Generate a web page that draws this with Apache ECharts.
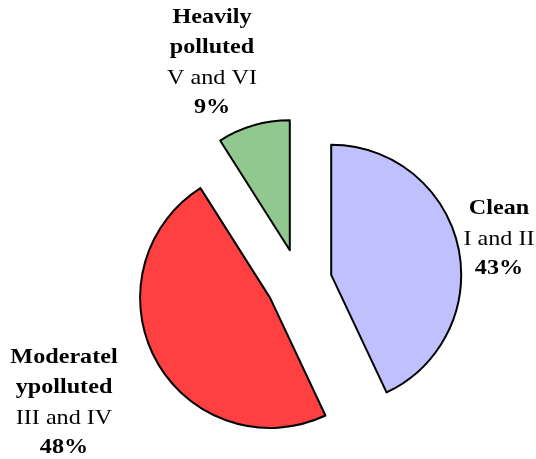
<!DOCTYPE html>
<html>
<head>
<meta charset="utf-8">
<script src="https://cdn.jsdelivr.net/npm/echarts@6/dist/echarts.min.js"></script>
<style>
  html, body { margin: 0; padding: 0; background: #fff; }
  #chart { width: 536px; height: 459px; }
</style>
</head>
<body>
<div id="chart"></div>
<script>
// water quality classes
var names = ["Clean", "Moderatel ypolluted", "Heavily polluted"];
var classes = ["I and II", "III and IV", "V and VI"];
var values = [43, 48, 9];
var colors = ["#c0c0ff", "#ff4040", "#90c890"];

// centre of each label block
var labelPos = [[499, 239], [64, 403], [212, 63]];

var chart = echarts.init(document.getElementById("chart"));

var data = names.map(function (n, i) {
  return {
    name: n,
    value: values[i],
    selected: true,
    itemStyle: { color: colors[i] }
  };
});

function labelText(i) {
  var lines = names[i].split(" ").map(function (s) {
    return "{b|" + s + "}";
  });
  lines.push("{n|" + classes[i] + "}");
  lines.push("{b|" + values[i] + "%}");
  return lines.join("\n");
}

var rich = {
  b: { fontFamily: "Liberation Serif", fontWeight: "bold", fontSize: 21, lineHeight: 30, fill: "#000" },
  n: { fontFamily: "Liberation Serif", fontSize: 21, lineHeight: 30, fill: "#000" }
};

// labels sit far from the slices, so place them as text blocks
var labels = names.map(function (n, i) {
  return {
    type: "text",
    x: labelPos[i][0],
    y: labelPos[i][1],
    scaleX: 1.15,
    silent: true,
    style: {
      text: labelText(i),
      rich: rich,
      x: 0,
      y: 0,
      align: "center",
      verticalAlign: "middle",
      fill: "#000"
    }
  };
});

chart.setOption({
  animation: false,
  graphic: labels,
  series: [
    {
      type: "pie",
      center: [299, 282],
      radius: 130,
      startAngle: 90,
      clockwise: true,
      selectedMode: "multiple",
      selectedOffset: 33,
      data: data,
      itemStyle: { borderColor: "#000", borderWidth: 2 },
      select: { itemStyle: { borderColor: "#000", borderWidth: 2 } },
      emphasis: { disabled: true },
      label: { show: false },
      labelLine: { show: false }
    }
  ]
});
</script>
</body>
</html>
